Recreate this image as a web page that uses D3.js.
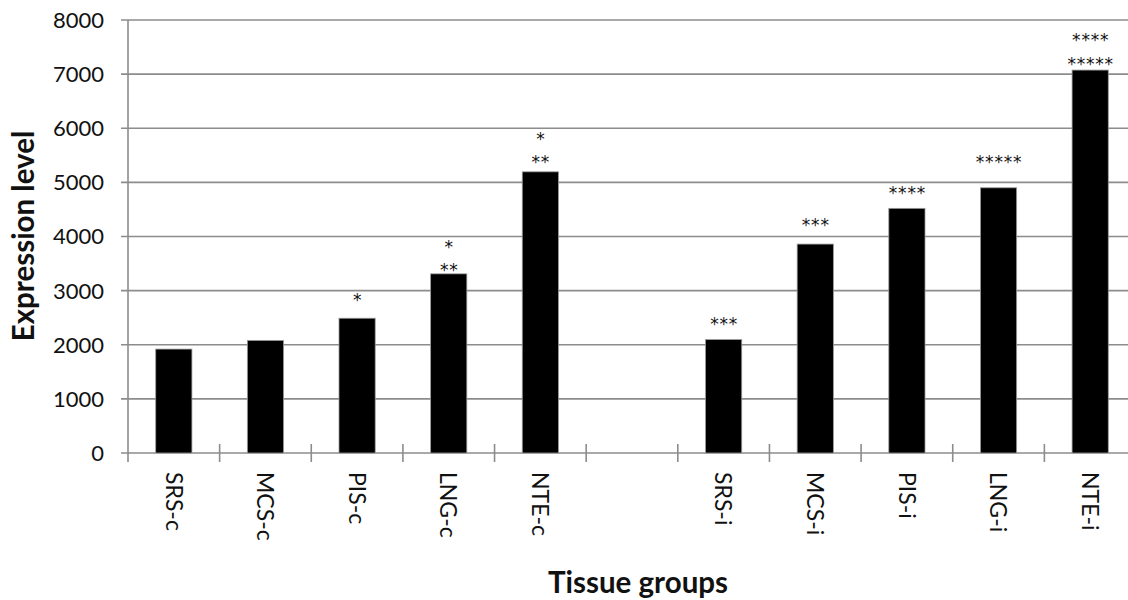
<!DOCTYPE html>
<html>
<head>
<meta charset="utf-8">
<script src="https://cdn.jsdelivr.net/npm/d3@7"></script>
<style>
  html, body { margin: 0; padding: 0; background: #fff; }
  svg { display: block; font-family: Lato, "Open Sans", sans-serif; }
</style>
</head>
<body>
<svg id="chart" width="1128" height="600"></svg>
<script>
// Tissue groups; the empty entry is the gap between the -c and -i groups
const categories = ["SRS-c", "MCS-c", "PIS-c", "LNG-c", "NTE-c", "", "SRS-i", "MCS-i", "PIS-i", "LNG-i", "NTE-i"];
const expression = [1920, 2080, 2490, 3310, 5195, null, 2095, 3860, 4520, 4900, 7075];

// Significance marks: lower row and upper row, with the level (in expression units) each row sits at
const marksLower = ["", "", "*", "**", "**", "", "***", "***", "****", "*****", "*****"];
const marksLowerLevel = [null, null, 2900, 3440, 5450, null, 2455, 4270, 4875, 5440, 7260];
const marksUpper = ["", "", "", "*", "*", "", "", "", "", "", "****"];
const marksUpperLevel = [null, null, null, 3880, 5875, null, null, null, null, null, 7690];

const yTicks = [0, 1000, 2000, 3000, 4000, 5000, 6000, 7000, 8000];

const svg = d3.select("#chart");
const margin = { left: 128, right: -8, top: 20, bottom: 147 };
const W = 1128, H = 600;

const x = d3.scaleBand()
  .domain(categories.map((c, i) => i))
  .range([margin.left, W - margin.right])
  .padding(0);

const y = d3.scaleLinear()
  .domain([0, 8000])
  .range([H - margin.bottom, margin.top]);

const grey = "#8c8c8c";
const barW = x.bandwidth() * 0.395;

// horizontal gridlines with short ticks left of the axis
svg.append("g").selectAll("line")
  .data(yTicks)
  .join("line")
  .attr("x1", margin.left - 7)
  .attr("x2", W)
  .attr("y1", d => y(d))
  .attr("y2", d => y(d))
  .attr("stroke", grey)
  .attr("stroke-width", 1.6);

// y axis tick labels
svg.append("g").selectAll("text")
  .data(yTicks)
  .join("text")
  .attr("x", 104)
  .attr("y", d => y(d))
  .attr("dy", "0.36em")
  .attr("text-anchor", "end")
  .attr("font-size", 22)
  .attr("fill", "#111")
  .text(d => d);

// y axis line
svg.append("line")
  .attr("x1", margin.left).attr("x2", margin.left)
  .attr("y1", y(8000)).attr("y2", y(0) + 9)
  .attr("stroke", grey).attr("stroke-width", 1.6);

// x axis ticks at category boundaries
const boundaries = d3.range(1, categories.length + 1).map(i => x(i - 1) + x.step());
svg.append("g").selectAll("line")
  .data(boundaries)
  .join("line")
  .attr("x1", d => d).attr("x2", d => d)
  .attr("y1", y(0) - 9).attr("y2", y(0) + 9)
  .attr("stroke", grey).attr("stroke-width", 1.6);

// bars
svg.append("g").selectAll("rect")
  .data(expression.map((v, i) => ({ v, i })).filter(d => d.v !== null))
  .join("rect")
  .attr("x", d => x(d.i) + x.bandwidth() / 2 - barW / 2)
  .attr("width", barW)
  .attr("y", d => y(d.v))
  .attr("height", d => y(0) - y(d.v))
  .attr("fill", "#000")
  .attr("stroke", "#9a9a9a")
  .attr("stroke-width", 0.8);

// category labels, rotated to read downward
svg.append("g").selectAll("text")
  .data(categories.map((c, i) => ({ c, i })).filter(d => d.c))
  .join("text")
  .attr("transform", d => `translate(${x(d.i) + x.bandwidth() / 2},${y(0) + 19}) rotate(90)`)
  .attr("dy", "0.36em")
  .attr("font-size", 23)
  .attr("fill", "#111")
  .text(d => d.c);

// significance asterisks
function drawMarks(marks, levels) {
  svg.append("g").selectAll("text")
    .data(marks.map((m, i) => ({ m, i, lv: levels[i] })).filter(d => d.m))
    .join("text")
    .attr("x", d => x(d.i) + x.bandwidth() / 2 + 0.5)
    .attr("y", d => y(d.lv))
    .attr("dy", "0.56em")
    .attr("text-anchor", "middle")
    .attr("font-family", "DejaVu Sans, sans-serif")
    .attr("font-size", 17)
    .attr("letter-spacing", 0.8)
    .attr("fill", "#111")
    .text(d => d.m);
}
drawMarks(marksLower, marksLowerLevel);
drawMarks(marksUpper, marksUpperLevel);

// axis titles
svg.append("text")
  .attr("x", 638)
  .attr("y", 593)
  .attr("text-anchor", "middle")
  .attr("font-size", 29.5)
  .attr("font-weight", "bold")
  .attr("fill", "#111")
  .text("Tissue groups");

svg.append("text")
  .attr("transform", "translate(34,236) rotate(-90)")
  .attr("text-anchor", "middle")
  .attr("font-size", 29.5)
  .attr("font-weight", "bold")
  .attr("fill", "#111")
  .text("Expression level");
</script>
</body>
</html>
